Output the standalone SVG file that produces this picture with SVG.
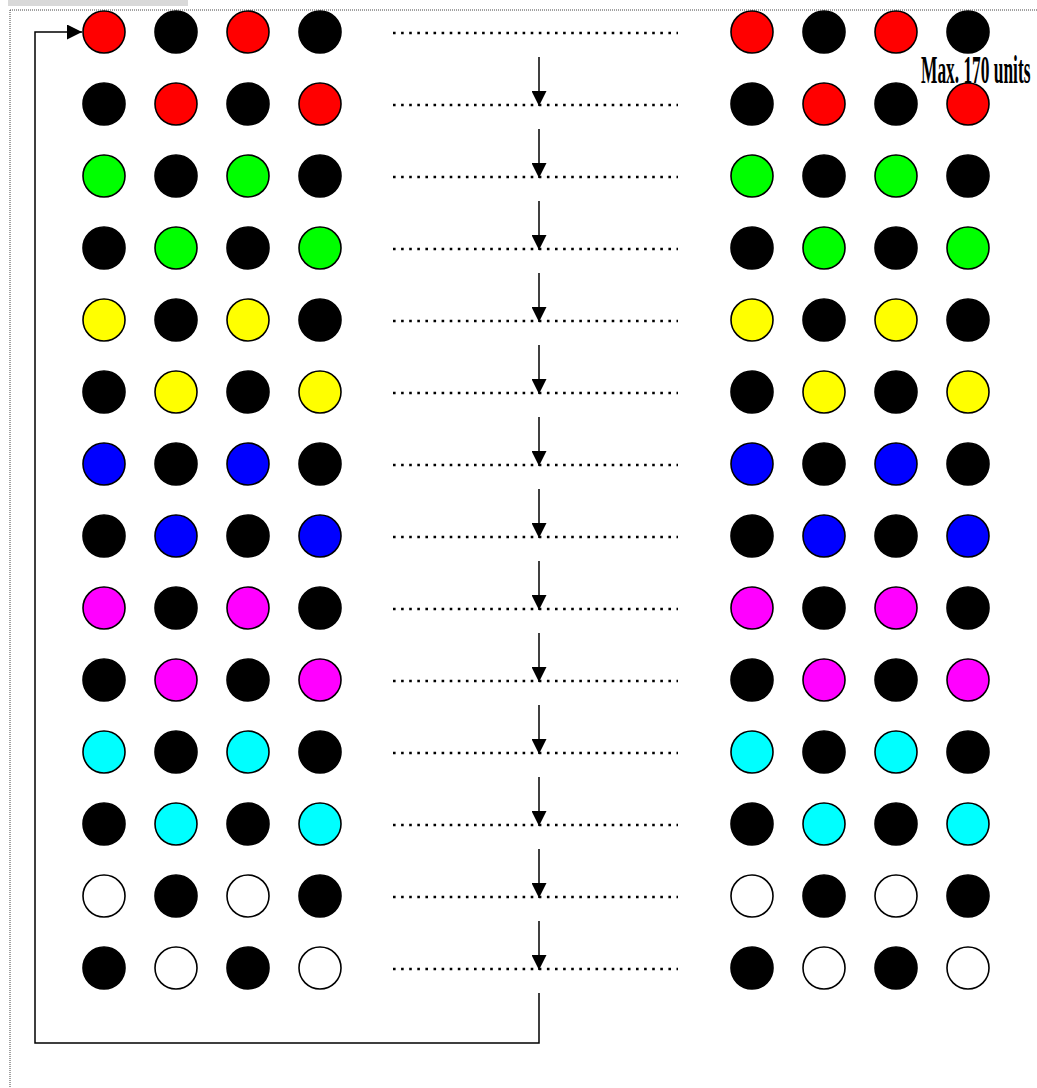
<svg xmlns="http://www.w3.org/2000/svg" width="1037" height="1088" viewBox="0 0 1037 1088">
<style>
.c{stroke:#000;stroke-width:1.6}
.k{fill:#000}.r{fill:#ff0000}.g{fill:#00ff00}.y{fill:#ffff00}.b{fill:#0000ff}.m{fill:#ff00ff}.cy{fill:#00ffff}.w{fill:#fff}
.dot{stroke:#000;stroke-width:2.6;stroke-dasharray:2.6 5.5;fill:none}
.ln{stroke:#000;stroke-width:1.5;fill:none}
.lbl{font-family:"Liberation Serif","Times New Roman",serif;font-weight:bold;font-size:39px;fill:#000}
</style>
<defs>
<marker id="ah" markerUnits="userSpaceOnUse" markerWidth="15" markerHeight="15" refX="15" refY="7.5" orient="auto">
<path d="M0,0 L15,7.5 L0,15 z" fill="#000"/>
</marker>
</defs>
<rect x="0" y="0" width="1037" height="1088" fill="#fff"/>
<rect x="8" y="0" width="180" height="6" fill="#d9d9d9"/>
<path d="M10,10 H1037 M10,10 V1088" stroke="#444" stroke-width="1" stroke-dasharray="1 1" fill="none"/>
<g id="dotted-lines">
<path class="dot" d="M393,33 H678 M393,105 H678 M393,177 H678 M393,249 H678 M393,321 H678 M393,393 H678 M393,465 H678 M393,537 H678 M393,609 H678 M393,681 H678 M393,753 H678 M393,825 H678 M393,897 H678 M393,969 H678"/>
</g>
<g id="connectors">
<line class="ln" x1="539" y1="57" x2="539" y2="106" marker-end="url(#ah)"/>
<line class="ln" x1="539" y1="129" x2="539" y2="178" marker-end="url(#ah)"/>
<line class="ln" x1="539" y1="201" x2="539" y2="250" marker-end="url(#ah)"/>
<line class="ln" x1="539" y1="273" x2="539" y2="322" marker-end="url(#ah)"/>
<line class="ln" x1="539" y1="345" x2="539" y2="394" marker-end="url(#ah)"/>
<line class="ln" x1="539" y1="417" x2="539" y2="466" marker-end="url(#ah)"/>
<line class="ln" x1="539" y1="489" x2="539" y2="538" marker-end="url(#ah)"/>
<line class="ln" x1="539" y1="561" x2="539" y2="610" marker-end="url(#ah)"/>
<line class="ln" x1="539" y1="633" x2="539" y2="682" marker-end="url(#ah)"/>
<line class="ln" x1="539" y1="705" x2="539" y2="754" marker-end="url(#ah)"/>
<line class="ln" x1="539" y1="777" x2="539" y2="826" marker-end="url(#ah)"/>
<line class="ln" x1="539" y1="849" x2="539" y2="898" marker-end="url(#ah)"/>
<line class="ln" x1="539" y1="921" x2="539" y2="970" marker-end="url(#ah)"/>
<path class="ln" d="M539,993 V1043 H35 V32 H82" marker-end="url(#ah)"/>
</g>
<g id="row1"><g id="n1-1"><circle class="c r" cx="104" cy="32" r="21"/></g><g id="n1-2"><circle class="c k" cx="176" cy="32" r="21"/></g><g id="n1-3"><circle class="c r" cx="248" cy="32" r="21"/></g><g id="n1-4"><circle class="c k" cx="320" cy="32" r="21"/></g><g id="n1-5"><circle class="c r" cx="752" cy="32" r="21"/></g><g id="n1-6"><circle class="c k" cx="824" cy="32" r="21"/></g><g id="n1-7"><circle class="c r" cx="896" cy="32" r="21"/></g><g id="n1-8"><circle class="c k" cx="968" cy="32" r="21"/></g></g>
<g id="row2"><g id="n2-1"><circle class="c k" cx="104" cy="104" r="21"/></g><g id="n2-2"><circle class="c r" cx="176" cy="104" r="21"/></g><g id="n2-3"><circle class="c k" cx="248" cy="104" r="21"/></g><g id="n2-4"><circle class="c r" cx="320" cy="104" r="21"/></g><g id="n2-5"><circle class="c k" cx="752" cy="104" r="21"/></g><g id="n2-6"><circle class="c r" cx="824" cy="104" r="21"/></g><g id="n2-7"><circle class="c k" cx="896" cy="104" r="21"/></g><g id="n2-8"><circle class="c r" cx="968" cy="104" r="21"/></g></g>
<g id="row3"><g id="n3-1"><circle class="c g" cx="104" cy="176" r="21"/></g><g id="n3-2"><circle class="c k" cx="176" cy="176" r="21"/></g><g id="n3-3"><circle class="c g" cx="248" cy="176" r="21"/></g><g id="n3-4"><circle class="c k" cx="320" cy="176" r="21"/></g><g id="n3-5"><circle class="c g" cx="752" cy="176" r="21"/></g><g id="n3-6"><circle class="c k" cx="824" cy="176" r="21"/></g><g id="n3-7"><circle class="c g" cx="896" cy="176" r="21"/></g><g id="n3-8"><circle class="c k" cx="968" cy="176" r="21"/></g></g>
<g id="row4"><g id="n4-1"><circle class="c k" cx="104" cy="248" r="21"/></g><g id="n4-2"><circle class="c g" cx="176" cy="248" r="21"/></g><g id="n4-3"><circle class="c k" cx="248" cy="248" r="21"/></g><g id="n4-4"><circle class="c g" cx="320" cy="248" r="21"/></g><g id="n4-5"><circle class="c k" cx="752" cy="248" r="21"/></g><g id="n4-6"><circle class="c g" cx="824" cy="248" r="21"/></g><g id="n4-7"><circle class="c k" cx="896" cy="248" r="21"/></g><g id="n4-8"><circle class="c g" cx="968" cy="248" r="21"/></g></g>
<g id="row5"><g id="n5-1"><circle class="c y" cx="104" cy="320" r="21"/></g><g id="n5-2"><circle class="c k" cx="176" cy="320" r="21"/></g><g id="n5-3"><circle class="c y" cx="248" cy="320" r="21"/></g><g id="n5-4"><circle class="c k" cx="320" cy="320" r="21"/></g><g id="n5-5"><circle class="c y" cx="752" cy="320" r="21"/></g><g id="n5-6"><circle class="c k" cx="824" cy="320" r="21"/></g><g id="n5-7"><circle class="c y" cx="896" cy="320" r="21"/></g><g id="n5-8"><circle class="c k" cx="968" cy="320" r="21"/></g></g>
<g id="row6"><g id="n6-1"><circle class="c k" cx="104" cy="392" r="21"/></g><g id="n6-2"><circle class="c y" cx="176" cy="392" r="21"/></g><g id="n6-3"><circle class="c k" cx="248" cy="392" r="21"/></g><g id="n6-4"><circle class="c y" cx="320" cy="392" r="21"/></g><g id="n6-5"><circle class="c k" cx="752" cy="392" r="21"/></g><g id="n6-6"><circle class="c y" cx="824" cy="392" r="21"/></g><g id="n6-7"><circle class="c k" cx="896" cy="392" r="21"/></g><g id="n6-8"><circle class="c y" cx="968" cy="392" r="21"/></g></g>
<g id="row7"><g id="n7-1"><circle class="c b" cx="104" cy="464" r="21"/></g><g id="n7-2"><circle class="c k" cx="176" cy="464" r="21"/></g><g id="n7-3"><circle class="c b" cx="248" cy="464" r="21"/></g><g id="n7-4"><circle class="c k" cx="320" cy="464" r="21"/></g><g id="n7-5"><circle class="c b" cx="752" cy="464" r="21"/></g><g id="n7-6"><circle class="c k" cx="824" cy="464" r="21"/></g><g id="n7-7"><circle class="c b" cx="896" cy="464" r="21"/></g><g id="n7-8"><circle class="c k" cx="968" cy="464" r="21"/></g></g>
<g id="row8"><g id="n8-1"><circle class="c k" cx="104" cy="536" r="21"/></g><g id="n8-2"><circle class="c b" cx="176" cy="536" r="21"/></g><g id="n8-3"><circle class="c k" cx="248" cy="536" r="21"/></g><g id="n8-4"><circle class="c b" cx="320" cy="536" r="21"/></g><g id="n8-5"><circle class="c k" cx="752" cy="536" r="21"/></g><g id="n8-6"><circle class="c b" cx="824" cy="536" r="21"/></g><g id="n8-7"><circle class="c k" cx="896" cy="536" r="21"/></g><g id="n8-8"><circle class="c b" cx="968" cy="536" r="21"/></g></g>
<g id="row9"><g id="n9-1"><circle class="c m" cx="104" cy="608" r="21"/></g><g id="n9-2"><circle class="c k" cx="176" cy="608" r="21"/></g><g id="n9-3"><circle class="c m" cx="248" cy="608" r="21"/></g><g id="n9-4"><circle class="c k" cx="320" cy="608" r="21"/></g><g id="n9-5"><circle class="c m" cx="752" cy="608" r="21"/></g><g id="n9-6"><circle class="c k" cx="824" cy="608" r="21"/></g><g id="n9-7"><circle class="c m" cx="896" cy="608" r="21"/></g><g id="n9-8"><circle class="c k" cx="968" cy="608" r="21"/></g></g>
<g id="row10"><g id="n10-1"><circle class="c k" cx="104" cy="680" r="21"/></g><g id="n10-2"><circle class="c m" cx="176" cy="680" r="21"/></g><g id="n10-3"><circle class="c k" cx="248" cy="680" r="21"/></g><g id="n10-4"><circle class="c m" cx="320" cy="680" r="21"/></g><g id="n10-5"><circle class="c k" cx="752" cy="680" r="21"/></g><g id="n10-6"><circle class="c m" cx="824" cy="680" r="21"/></g><g id="n10-7"><circle class="c k" cx="896" cy="680" r="21"/></g><g id="n10-8"><circle class="c m" cx="968" cy="680" r="21"/></g></g>
<g id="row11"><g id="n11-1"><circle class="c cy" cx="104" cy="752" r="21"/></g><g id="n11-2"><circle class="c k" cx="176" cy="752" r="21"/></g><g id="n11-3"><circle class="c cy" cx="248" cy="752" r="21"/></g><g id="n11-4"><circle class="c k" cx="320" cy="752" r="21"/></g><g id="n11-5"><circle class="c cy" cx="752" cy="752" r="21"/></g><g id="n11-6"><circle class="c k" cx="824" cy="752" r="21"/></g><g id="n11-7"><circle class="c cy" cx="896" cy="752" r="21"/></g><g id="n11-8"><circle class="c k" cx="968" cy="752" r="21"/></g></g>
<g id="row12"><g id="n12-1"><circle class="c k" cx="104" cy="824" r="21"/></g><g id="n12-2"><circle class="c cy" cx="176" cy="824" r="21"/></g><g id="n12-3"><circle class="c k" cx="248" cy="824" r="21"/></g><g id="n12-4"><circle class="c cy" cx="320" cy="824" r="21"/></g><g id="n12-5"><circle class="c k" cx="752" cy="824" r="21"/></g><g id="n12-6"><circle class="c cy" cx="824" cy="824" r="21"/></g><g id="n12-7"><circle class="c k" cx="896" cy="824" r="21"/></g><g id="n12-8"><circle class="c cy" cx="968" cy="824" r="21"/></g></g>
<g id="row13"><g id="n13-1"><circle class="c w" cx="104" cy="896" r="21"/></g><g id="n13-2"><circle class="c k" cx="176" cy="896" r="21"/></g><g id="n13-3"><circle class="c w" cx="248" cy="896" r="21"/></g><g id="n13-4"><circle class="c k" cx="320" cy="896" r="21"/></g><g id="n13-5"><circle class="c w" cx="752" cy="896" r="21"/></g><g id="n13-6"><circle class="c k" cx="824" cy="896" r="21"/></g><g id="n13-7"><circle class="c w" cx="896" cy="896" r="21"/></g><g id="n13-8"><circle class="c k" cx="968" cy="896" r="21"/></g></g>
<g id="row14"><g id="n14-1"><circle class="c k" cx="104" cy="968" r="21"/></g><g id="n14-2"><circle class="c w" cx="176" cy="968" r="21"/></g><g id="n14-3"><circle class="c k" cx="248" cy="968" r="21"/></g><g id="n14-4"><circle class="c w" cx="320" cy="968" r="21"/></g><g id="n14-5"><circle class="c k" cx="752" cy="968" r="21"/></g><g id="n14-6"><circle class="c w" cx="824" cy="968" r="21"/></g><g id="n14-7"><circle class="c k" cx="896" cy="968" r="21"/></g><g id="n14-8"><circle class="c w" cx="968" cy="968" r="21"/></g></g>
<g id="label"><text class="lbl" transform="translate(921,83) scale(0.445,1)" x="0" y="0" textLength="246" lengthAdjust="spacingAndGlyphs">Max. 170 units</text></g>
</svg>
